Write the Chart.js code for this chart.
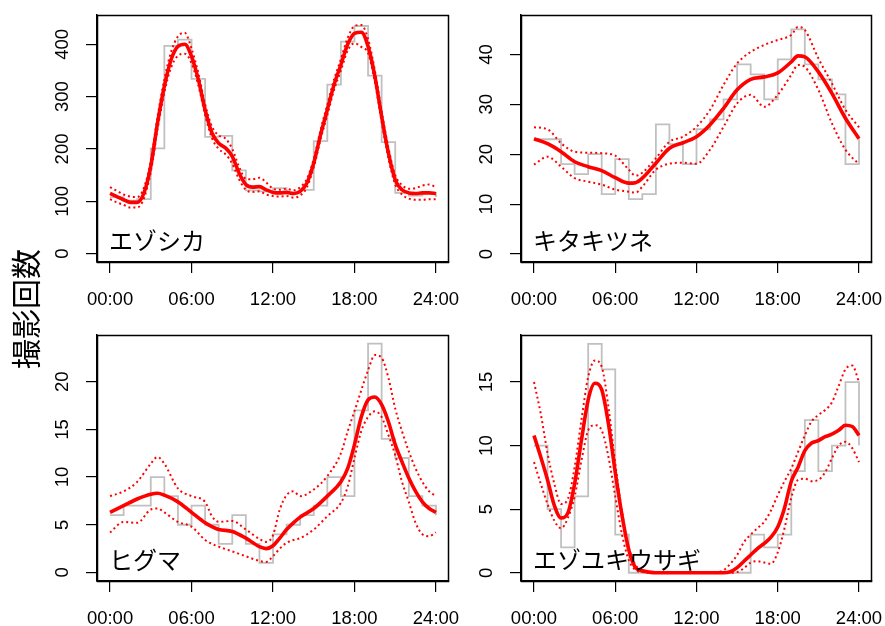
<!DOCTYPE html>
<html>
<head>
<meta charset="utf-8">
<script src="https://cdn.jsdelivr.net/npm/chart.js@4.4.1/dist/chart.umd.min.js"></script>
<style>
  html, body { margin: 0; padding: 0; background: #fff; }
  #wrap { position: relative; width: 885px; height: 626px; }
  #wrap canvas { position: absolute; left: 0; top: 0; }
</style>
</head>
<body>
<div id="wrap">
  <canvas id="deer" width="885" height="626"></canvas>
  <canvas id="fox" width="885" height="626"></canvas>
  <canvas id="bear" width="885" height="626"></canvas>
  <canvas id="hare" width="885" height="626"></canvas>
</div>
<script>
/* 撮影回数 by hour, 4 species */

const yAxisTitle = '撮影回数';
const xTickHours = [0, 6, 12, 18, 24];
const xTickLabels = ['00:00', '06:00', '12:00', '18:00', '24:00'];
// bin edges of the hourly step line (last edge closes the day)
const hourEdges = [0,1,2,3,4,5,6,7,8,9,10,11,12,13,14,15,16,17,18,19,20,21,22,23,24];
const halfHours = [0,0.5,1,1.5,2,2.5,3,3.5,4,4.5,5,5.5,6,6.5,7,7.5,8,8.5,9,9.5,10,10.5,11,11.5,
                   12,12.5,13,13.5,14,14.5,15,15.5,16,16.5,17,17.5,18,18.5,19,19.5,20,20.5,21,21.5,
                   22,22.5,23,23.5,24];

// エゾシカ
const deerCounts = [108,101,104,201,397,409,334,223,225,159,121,119,125,115,122,215,323,405,435,340,213,116,111,116];
const deerFit = [115,109,103,98,98,116,167,250,320,371,396,400,377,333,275,231,211,202,186,154,132,127,128,122,
                 117,116,117,115,119,135,173,227,275,323,361,400,421,423,396,339,262,192,141,122,116,115,116,116,115];
const deerHi  = [127,120,113,109,108,126,178,262,333,386,415,422,392,345,286,243,226,220,200,166,143,142,145,136,
                 124,122,124,121,127,143,181,236,285,333,372,412,435,437,410,350,272,202,150,131,124,125,130,132,127];
const deerLo  = [104,98,93,88,88,106,156,238,308,356,378,382,364,322,265,221,200,190,172,142,122,118,119,113,
                 110,109,110,107,111,127,165,218,265,313,350,388,402,395,383,328,252,182,132,113,105,103,103,104,104];

// キタキツネ
const foxCounts = [23,23,18,16,20,12,19,11,12,26,22,18,25,27,31,38,36,31,39,45,38,35,32,18];
const foxT   = [0,1,2,3,4,5,6,7,7.5,8,9,10,11,12,13,14,15,16,17,18,19,19.5,20,21,22,23,24];
const foxFit = [23.1,22.1,20.5,18.5,17.5,16.7,15.3,14.2,14.3,15.2,18.2,21.2,22.3,23.5,25.9,29.2,32.9,35.0,35.5,36.3,38.5,39.7,39.5,36.5,32.2,27.2,23.1];
const foxHi  = [25.4,25.0,22.2,20.5,20.3,20.2,19.7,16.9,15.7,16.3,19.2,22.5,23.5,25.5,28.9,33.9,38.2,40.5,41.9,42.9,43.9,45.5,44.9,39.2,34.2,28.9,25.4];
const foxLo  = [17.9,19.5,17.5,15.2,14.5,13.9,12.9,12.5,12.3,13.5,16.9,18.1,18.3,18.1,20.9,25.5,30.2,31.9,29.5,31.9,35.9,37.9,37.5,32.9,26.2,20.9,18.0];

// ヒグマ
const bearCounts = [6,7,7,10,8,5,7,5,3,6,3,1,4,5,6,7,10,8,17,24,14,12,8,7];
const bearT   = [0,1,2,3,3.5,4,5,6,7,7.5,8,9,10,11,11.5,12,12.5,13,13.5,14,15,16,17,17.5,18,18.5,19,19.5,20,20.5,21,21.5,22,22.5,23,23.5,24];
const bearFit = [6.3,7.0,7.7,8.2,8.3,8.1,7.4,6.3,5.2,4.8,4.5,4.3,3.6,2.7,2.5,2.8,3.6,4.5,5.2,5.8,6.7,8.0,9.5,10.9,13.4,16.3,18.1,18.4,17.6,15.8,13.4,11.6,9.9,8.5,7.4,6.7,6.3];
const bearHi  = [8.0,8.5,9.5,11.4,12.1,11.4,8.8,8.0,7.4,5.9,5.3,5.4,4.5,3.5,3.2,3.9,6.6,8.1,8.5,8.0,8.7,10.1,12.5,14.8,16.9,19.1,21.2,22.8,22.5,20.4,17.2,14.8,12.7,10.9,9.5,8.5,8.0];
const bearLo  = [4.2,5.3,5.2,6.6,6.7,6.3,5.3,4.8,3.4,3.0,2.7,2.2,1.7,1.2,1.1,1.7,2.5,3.1,3.4,3.6,4.5,5.9,7.3,9.0,12.0,14.8,16.3,16.9,16.3,14.4,12.3,9.5,7.4,5.2,4.0,3.8,4.2];

// エゾユキウサギ
const hareCounts = [10,5,2,6,18,16,3,0,0,0,0,0,0,0,0,0,3,2,3,8,12,8,10,15];
const hareFit = [10.8,9.1,7.3,5.3,4.3,4.7,7.0,10.4,13.6,14.9,14.4,11.7,7.9,4.5,1.8,0.4,0.15,0.05,0,0,0,0,0,0,
                 0,0,0,0,0,0.08,0.4,0.9,1.4,1.9,2.3,2.8,3.6,5.1,7.2,8.3,9.6,10.2,10.4,10.7,10.9,11.2,11.6,11.5,10.8];
const hareHi  = [15.0,12.5,9.4,7.0,5.4,5.8,8.3,12.0,15.4,16.7,16.2,13.0,8.6,4.8,2.0,0.6,0.2,0.05,0.05,0.05,0.05,0.05,0.05,0.05,
                 0.05,0.05,0.05,0.05,0.2,0.7,1.4,2.4,3.0,3.5,4.0,4.9,6.1,7.2,8.2,9.5,10.8,11.9,12.4,12.8,13.4,14.7,16.0,16.3,15.0];
const hareLo  = [8.7,7.0,5.4,4.1,3.5,4.3,6.0,8.8,11.2,11.6,11.2,9.1,6.0,3.0,1.0,0.2,0.05,0,0,0,0,0,0,0,
                 0,0,0,0,0,0,0.05,0.35,0.8,0.9,0.8,0.7,1.6,3.5,5.9,7.3,7.4,7.2,7.3,7.9,9.0,10.0,10.3,9.8,8.7];

const NUM_FONT = "'Liberation Sans', Arial, sans-serif";
const JP_FONT = "'Noto Sans CJK JP', 'Noto Sans CJK SC', sans-serif";
const Y_AXIS_W = 40;
const X_AXIS_H = 40;

function makePanel(id, p) {
  const histPts = hourEdges.map((h, i) => ({ x: h, y: p.counts[i % p.counts.length] }));
  const curve = arr => p.times.map((t, i) => ({ x: t, y: arr[i] }));
  const [L, T, R, B] = p.area;

  const frame = {
    id: 'frame',
    afterDraw(chart) {
      const ctx = chart.ctx, a = chart.chartArea;
      ctx.save();
      // box round the plot region
      ctx.strokeStyle = '#000';
      ctx.lineWidth = 1.5;
      ctx.strokeRect(Math.round(a.left) + 0.5, Math.round(a.top) + 0.5,
                     Math.round(a.right - a.left) - 1, Math.round(a.bottom - a.top));
      ctx.fillStyle = '#000';
      // x tick labels
      ctx.font = '18.5px ' + NUM_FONT;
      ctx.textAlign = 'center';
      ctx.textBaseline = 'middle';
      const xs = chart.scales.x;
      xTickHours.forEach((h, i) => {
        ctx.fillText(xTickLabels[i], xs.getPixelForValue(h), a.bottom + 38);
      });
      // y tick labels, rotated like R's las=0
      const ys = chart.scales.y;
      ys.ticks.forEach(t => {
        ctx.save();
        ctx.translate(a.left - 34.5, ys.getPixelForValue(t.value));
        ctx.rotate(-Math.PI / 2);
        ctx.fillText(String(t.value), 0, 0);
        ctx.restore();
      });
      // species name
      ctx.font = '24px ' + JP_FONT;
      ctx.textAlign = 'left';
      ctx.fillText(p.title, a.left + 12, a.bottom - 21);
      if (p.axisTitle) {
        ctx.font = '30px ' + JP_FONT;
        ctx.textAlign = 'center';
        ctx.translate(26, 309);
        ctx.rotate(-Math.PI / 2);
        ctx.fillText(p.axisTitle, 0, 0);
      }
      ctx.restore();
    }
  };

  const dotted = {
    borderColor: '#ff0000', borderWidth: 2, borderDash: [2, 3],
    pointRadius: 0, cubicInterpolationMode: 'monotone', fill: false
  };

  return new Chart(document.getElementById(id), {
    type: 'line',
    data: {
      datasets: [
        { data: curve(p.fit), borderColor: '#ff0000', borderWidth: 3.6, pointRadius: 0,
          cubicInterpolationMode: 'monotone', fill: false },
        Object.assign({ data: curve(p.hi) }, dotted),
        Object.assign({ data: curve(p.lo) }, dotted),
        { data: histPts, borderColor: '#c0c0c0', borderWidth: 1.8, pointRadius: 0,
          stepped: true, fill: false }
      ]
    },
    options: {
      responsive: false,
      animation: false,
      devicePixelRatio: 1,
      events: [],
      layout: { padding: { left: L - Y_AXIS_W, top: T, right: 885 - R, bottom: 626 - B - X_AXIS_H } },
      plugins: { legend: { display: false }, tooltip: { enabled: false } },
      scales: {
        x: {
          type: 'linear', min: -0.96, max: 24.96,
          afterBuildTicks: s => { s.ticks = xTickHours.map(v => ({ value: v })); },
          afterFit: s => { s.height = X_AXIS_H; s.paddingLeft = 0; s.paddingRight = 0; },
          ticks: { display: false },
          grid: { drawOnChartArea: false, drawTicks: true, tickLength: 11, color: '#000', lineWidth: 1.2 },
          border: { display: true, color: '#000', width: 1.5 }
        },
        y: {
          type: 'linear', min: p.yMin, max: p.yMax,
          afterBuildTicks: s => { s.ticks = p.yTicks.map(v => ({ value: v })); },
          afterFit: s => { s.width = Y_AXIS_W; s.paddingTop = 0; s.paddingBottom = 0; },
          ticks: { display: false },
          grid: { drawOnChartArea: false, drawTicks: true, tickLength: 11, color: '#000', lineWidth: 1.2 },
          border: { display: true, color: '#000', width: 1.5 }
        }
      }
    },
    plugins: [frame]
  });
}

makePanel('deer', {
  title: 'エゾシカ', axisTitle: yAxisTitle, area: [97, 15, 449, 262],
  yMin: -16, yMax: 456, yTicks: [0, 100, 200, 300, 400],
  counts: deerCounts, times: halfHours, fit: deerFit, hi: deerHi, lo: deerLo
});
makePanel('fox', {
  title: 'キタキツネ', area: [521, 15, 872, 262],
  yMin: -1.6, yMax: 47.9, yTicks: [0, 10, 20, 30, 40],
  counts: foxCounts, times: foxT, fit: foxFit, hi: foxHi, lo: foxLo
});
makePanel('bear', {
  title: 'ヒグマ', area: [97, 335, 449, 581],
  yMin: -0.9, yMax: 24.9, yTicks: [0, 5, 10, 15, 20],
  counts: bearCounts, times: bearT, fit: bearFit, hi: bearHi, lo: bearLo
});
makePanel('hare', {
  title: 'エゾユキウサギ', area: [521, 335, 872, 581],
  yMin: -0.65, yMax: 18.7, yTicks: [0, 5, 10, 15],
  counts: hareCounts, times: halfHours, fit: hareFit, hi: hareHi, lo: hareLo
});
</script>
</body>
</html>
